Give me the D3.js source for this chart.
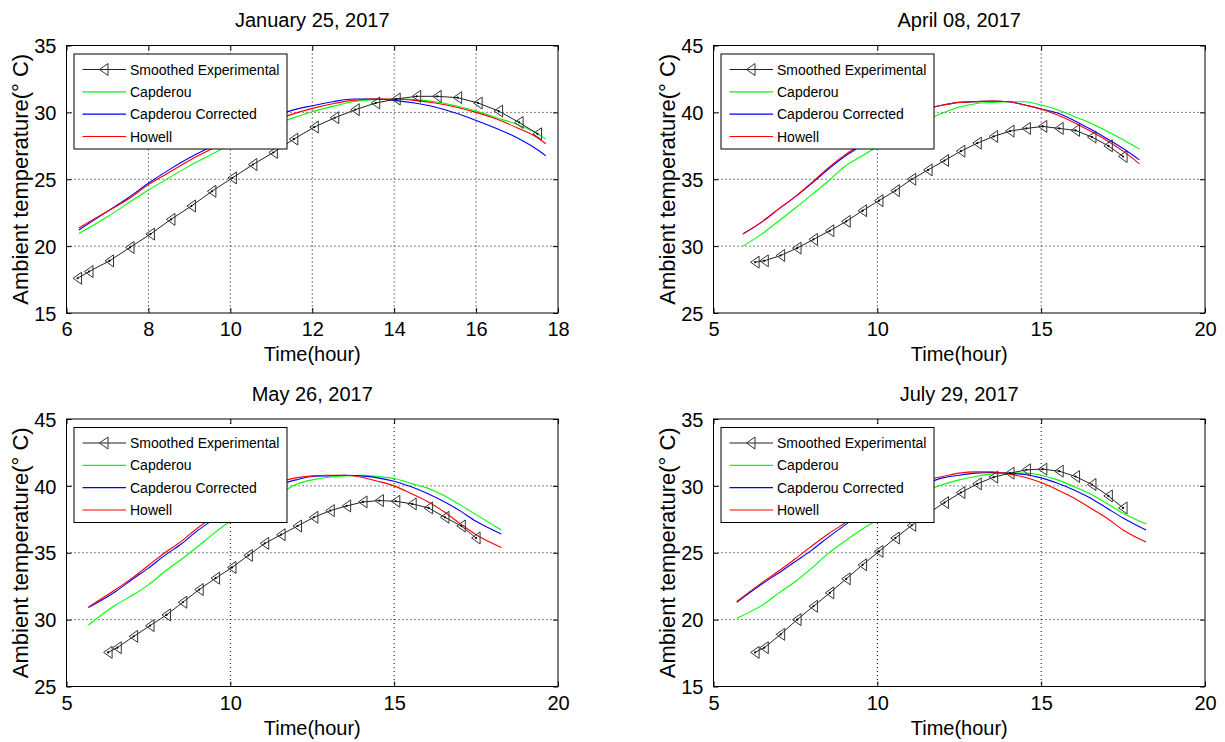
<!DOCTYPE html>
<html>
<head>
<meta charset="utf-8">
<script src="https://cdn.jsdelivr.net/npm/d3@7"></script>
<style>
  html, body { margin: 0; padding: 0; background: #fff; }
  svg { display: block; font-family: "Liberation Sans", Arial, Helvetica, sans-serif; }
</style>
</head>
<body>
<svg id="chart" width="1225" height="742"></svg>
<script>
// ---------------- DATA ----------------
const titles = ["January 25, 2017", "April 08, 2017", "May 26, 2017", "July 29, 2017"];
const seriesNames = ["Smoothed Experimental", "Capderou", "Capderou Corrected", "Howell"];
const xLabel = "Time(hour)";
const yLabel = "Ambient temperature(° C)";

const janXTicks = [6, 8, 10, 12, 14, 16, 18];
const janYTicks = [15, 20, 25, 30, 35];
const aprXTicks = [5, 10, 15, 20];
const aprYTicks = [25, 30, 35, 40, 45];
const mayXTicks = [5, 10, 15, 20];
const mayYTicks = [25, 30, 35, 40, 45];
const julXTicks = [5, 10, 15, 20];
const julYTicks = [15, 20, 25, 30, 35];

// Experimental sampling times (hours)
const expTime = [6.27, 6.55, 7.05, 7.55, 8.05, 8.55, 9.05, 9.55, 10.05, 10.55, 11.05, 11.55,
                 12.05, 12.55, 13.05, 13.55, 14.05, 14.55, 15.05, 15.55, 16.05, 16.55, 17.05, 17.5];

// January 25
const janExp = [17.6, 18.1, 18.9, 19.9, 20.9, 22.0, 23.0, 24.1, 25.1, 26.1, 27.0, 28.0,
                28.9, 29.6, 30.2, 30.7, 31.0, 31.2, 31.2, 31.1, 30.7, 30.1, 29.25, 28.4];
const janModelTime = [6.3, 7, 7.5, 8, 8.5, 9, 9.5, 10, 10.5, 11, 11.5, 12, 12.5, 13, 13.5, 14,
                      14.5, 15, 15.5, 16, 16.5, 17, 17.5, 17.7];
const janCapderou = [20.95, 22.2, 23.2, 24.2, 25.1, 26.0, 26.8, 27.6, 28.4, 29.0, 29.55, 30.05,
                     30.45, 30.8, 30.95, 31.0, 30.95, 30.8, 30.5, 30.1, 29.6, 29.1, 28.4, 28.0];
const janCapCorr = [21.2, 22.6, 23.6, 24.7, 25.7, 26.6, 27.4, 28.2, 28.9, 29.6, 30.15, 30.5,
                    30.8, 31.0, 31.0, 30.9, 30.7, 30.4, 29.95, 29.4, 28.8, 28.1, 27.2, 26.75];
const janHowell = [21.35, 22.6, 23.5, 24.6, 25.5, 26.4, 27.2, 28.0, 28.7, 29.3, 29.85, 30.3,
                   30.65, 30.9, 31.0, 31.0, 30.9, 30.7, 30.4, 30.0, 29.5, 28.85, 28.1, 27.65];

// April 08
const aprExp = [28.8, 28.9, 29.3, 29.85, 30.5, 31.15, 31.85, 32.65, 33.4, 34.15, 35.0, 35.7,
                36.4, 37.1, 37.7, 38.2, 38.6, 38.8, 38.95, 38.8, 38.65, 38.15, 37.5, 36.7];
const aprModelTime = [5.9, 6.5, 7, 7.5, 8, 8.5, 9, 9.5, 10, 10.5, 11, 11.5, 12, 12.5, 13, 13.5,
                      14, 14.5, 15, 15.5, 16, 16.5, 17, 17.5, 18.0];
const aprCapderou = [30.0, 30.95, 31.9, 32.85, 33.85, 34.85, 35.95, 36.7, 37.45, 38.3, 38.95, 39.45,
                     39.95, 40.4, 40.65, 40.75, 40.8, 40.8, 40.55, 40.2, 39.7, 39.2, 38.6, 37.95, 37.25];
const aprCapCorr = [30.9, 31.85, 32.8, 33.7, 34.7, 35.75, 36.7, 37.5, 38.35, 39.15, 39.8, 40.25,
                    40.55, 40.75, 40.8, 40.85, 40.8, 40.55, 40.25, 39.95, 39.4, 38.75, 38.05, 37.3, 36.45];
const aprHowell = [30.93, 31.85, 32.8, 33.7, 34.75, 35.85, 36.8, 37.6, 38.4, 39.2, 39.8, 40.25,
                   40.55, 40.75, 40.8, 40.85, 40.8, 40.55, 40.25, 39.8, 39.25, 38.6, 37.9, 37.1, 36.15];

// May 26
const mayExp = [27.55, 27.9, 28.75, 29.55, 30.35, 31.3, 32.25, 33.1, 33.9, 34.8, 35.7, 36.35,
                37.0, 37.65, 38.15, 38.5, 38.8, 38.9, 38.85, 38.65, 38.35, 37.65, 37.0, 36.1];
const mayModelTime = [5.67, 6.5, 7, 7.5, 8, 8.5, 9, 9.5, 10, 10.5, 11, 11.5, 12, 12.5, 13, 13.5,
                      14, 14.5, 15, 15.5, 16, 16.5, 17, 17.5, 18.27];
const mayCapderou = [29.6, 31.1, 31.8, 32.6, 33.6, 34.5, 35.45, 36.45, 37.35, 38.1, 38.8, 39.4,
                     40.1, 40.45, 40.65, 40.75, 40.8, 40.7, 40.55, 40.2, 39.85, 39.3, 38.6, 37.85, 36.7];
const mayCapCorr = [30.9, 32.1, 33.0, 33.85, 34.8, 35.65, 36.65, 37.5, 38.3, 39.0, 39.65, 40.1,
                    40.45, 40.7, 40.75, 40.8, 40.75, 40.6, 40.35, 39.95, 39.45, 38.85, 38.15, 37.35, 36.4];
const mayHowell = [30.95, 32.25, 33.1, 34.05, 35.0, 35.85, 36.85, 37.7, 38.5, 39.2, 39.85, 40.3,
                   40.6, 40.75, 40.8, 40.8, 40.65, 40.35, 40.0, 39.45, 38.85, 38.1, 37.2, 36.35, 35.4];

// July 29
const julExp = [17.55, 17.9, 18.9, 20.0, 21.0, 22.0, 23.05, 24.1, 25.1, 26.1, 27.05, 27.95,
                28.75, 29.5, 30.15, 30.65, 30.95, 31.2, 31.25, 31.1, 30.7, 30.1, 29.25, 28.35];
const julModelTime = [5.71, 6.5, 7, 7.5, 8, 8.5, 9, 9.5, 10, 10.5, 11, 11.5, 12, 12.5, 13, 13.5,
                      14, 14.5, 15, 15.5, 16, 16.5, 17, 17.5, 18.2];
const julCapderou = [20.1, 21.1, 22.0, 22.85, 23.85, 24.95, 25.85, 26.7, 27.45, 28.2, 28.9, 29.6,
                     30.1, 30.45, 30.7, 30.9, 30.95, 30.95, 30.8, 30.45, 29.95, 29.4, 28.7, 27.95, 27.15];
const julCapCorr = [21.3, 22.7, 23.5, 24.35, 25.2, 26.15, 27.05, 27.9, 28.6, 29.2, 29.7, 30.2,
                    30.6, 30.8, 30.95, 31.0, 30.95, 30.85, 30.6, 30.2, 29.7, 29.1, 28.35, 27.6, 26.7];
const julHowell = [21.35, 22.8, 23.65, 24.55, 25.5, 26.4, 27.2, 28.0, 28.8, 29.4, 29.9, 30.45,
                   30.7, 30.95, 31.05, 31.05, 30.9, 30.65, 30.25, 29.7, 29.1, 28.35, 27.6, 26.7, 25.8];

// ---------------- BUILD ----------------
const panels = [
  { title: titles[0], xTicks: janXTicks, yTicks: janYTicks, exp: janExp, mt: janModelTime,
    models: [janCapderou, janCapCorr, janHowell] },
  { title: titles[1], xTicks: aprXTicks, yTicks: aprYTicks, exp: aprExp, mt: aprModelTime,
    models: [aprCapderou, aprCapCorr, aprHowell] },
  { title: titles[2], xTicks: mayXTicks, yTicks: mayYTicks, exp: mayExp, mt: mayModelTime,
    models: [mayCapderou, mayCapCorr, mayHowell] },
  { title: titles[3], xTicks: julXTicks, yTicks: julYTicks, exp: julExp, mt: julModelTime,
    models: [julCapderou, julCapCorr, julHowell] }
];

const modelColors = ["#00ff00", "#0000ff", "#ff0000"];
const boxes = [
  { x: 66.5, y: 45.5 }, { x: 713.5, y: 45.5 },
  { x: 66.5, y: 419 },  { x: 713.5, y: 419 }
];
const W = 491.5, H = 267.5;
const FONT = "'Liberation Sans', Arial, Helvetica, sans-serif";

const svg = d3.select("#chart");
svg.append("rect").attr("width", 1225).attr("height", 742).attr("fill", "#fff");

// left-pointing triangle marker
const tri = "M-4.5,0L4,-6L4,6Z";

panels.forEach((p, i) => {
  const b = boxes[i];
  const g = svg.append("g").attr("transform", `translate(${b.x},${b.y})`);
  const x = d3.scaleLinear().domain(d3.extent(p.xTicks)).range([0, W]);
  const y = d3.scaleLinear().domain(d3.extent(p.yTicks)).range([H, 0]);

  // grid (interior ticks only)
  const innerX = p.xTicks.slice(1, -1), innerY = p.yTicks.slice(1, -1);
  g.append("g").selectAll("line").data(innerX).join("line")
    .attr("x1", d => x(d)).attr("x2", d => x(d)).attr("y1", 0).attr("y2", H)
    .attr("stroke", "#000").attr("stroke-width", 1).attr("stroke-dasharray", "1,3");
  g.append("g").selectAll("line").data(innerY).join("line")
    .attr("y1", d => y(d)).attr("y2", d => y(d)).attr("x1", 0).attr("x2", W)
    .attr("stroke", "#000").attr("stroke-width", 1).attr("stroke-dasharray", "1,3");

  // model curves
  const line = d3.line().x(d => x(d[0])).y(d => y(d[1])).curve(d3.curveMonotoneX);
  p.models.forEach((m, k) => {
    g.append("path").datum(p.mt.map((t, j) => [t, m[j]]))
      .attr("d", line).attr("fill", "none")
      .attr("stroke", modelColors[k]).attr("stroke-width", 1.1);
  });

  // experimental
  const expData = expTime.map((t, j) => [t, p.exp[j]]);
  g.append("path").datum(expData)
    .attr("d", d3.line().x(d => x(d[0])).y(d => y(d[1])))
    .attr("fill", "none").attr("stroke", "#222").attr("stroke-width", 1);
  const mk = g.append("g").selectAll("g").data(expData).join("g")
    .attr("transform", d => `translate(${x(d[0])},${y(d[1])})`);
  mk.append("path").attr("d", tri).attr("fill", "none").attr("stroke", "#333").attr("stroke-width", 1);
  mk.append("circle").attr("r", 1.1).attr("fill", "#000");

  // axes (ticks inward, on all four sides)
  const tl = 5;
  const ax = g.append("g").attr("transform", `translate(0,${H})`)
    .call(d3.axisBottom(x).tickValues(p.xTicks).tickSizeInner(-tl).tickSizeOuter(0).tickPadding(9));
  const axT = g.append("g")
    .call(d3.axisTop(x).tickValues(p.xTicks).tickSizeInner(-tl).tickSizeOuter(0).tickFormat(""));
  const ay = g.append("g")
    .call(d3.axisLeft(y).tickValues(p.yTicks).tickSizeInner(-tl).tickSizeOuter(0).tickPadding(10));
  const ayR = g.append("g").attr("transform", `translate(${W},0)`)
    .call(d3.axisRight(y).tickValues(p.yTicks).tickSizeInner(-tl).tickSizeOuter(0).tickFormat(""));
  [ax, axT, ay, ayR].forEach(a => {
    a.select(".domain").remove();
    a.selectAll("line").attr("stroke", "#000");
    a.selectAll("text").attr("fill", "#000").style("font-family", FONT).style("font-size", "20px");
  });
  ay.selectAll("text").attr("dy", "0.36em");
  ax.selectAll("text").attr("dy", "0.7em");

  g.append("rect").attr("width", W).attr("height", H)
    .attr("fill", "none").attr("stroke", "#000").attr("stroke-width", 1);

  // title & labels
  g.append("text").attr("x", W / 2).attr("y", -18.5).attr("text-anchor", "middle")
    .style("font-family", FONT).style("font-size", "20px").text(p.title);
  g.append("text").attr("x", W / 2).attr("y", H + 48).attr("text-anchor", "middle")
    .style("font-family", FONT).style("font-size", "20px").text(xLabel);
  g.append("text").attr("transform", `translate(-38.5,${H / 2}) rotate(-90)`)
    .attr("text-anchor", "middle")
    .style("font-family", FONT).style("font-size", "22px").text(yLabel);

  // legend
  const lg = g.append("g").attr("transform", "translate(7.5,8.5)");
  lg.append("rect").attr("width", 213).attr("height", 95)
    .attr("fill", "#fff").attr("stroke", "#000").attr("stroke-width", 1);
  const rowY = d3.scalePoint().domain(seriesNames).range([15.5, 82.5]);
  seriesNames.forEach((name, k) => {
    const yy = rowY(name);
    const col = k === 0 ? "#222" : modelColors[k - 1];
    lg.append("line").attr("x1", 8.5).attr("x2", 52).attr("y1", yy).attr("y2", yy)
      .attr("stroke", col).attr("stroke-width", k === 0 ? 1 : 1.1);
    if (k === 0) {
      lg.append("path").attr("transform", `translate(30,${yy})`).attr("d", tri)
        .attr("fill", "none").attr("stroke", "#333");
    }
    lg.append("text").attr("x", 56).attr("y", yy).attr("dy", "0.36em")
      .style("font-family", FONT).style("font-size", "14px").attr("fill", "#000").text(name);
  });
});
</script>
</body>
</html>
